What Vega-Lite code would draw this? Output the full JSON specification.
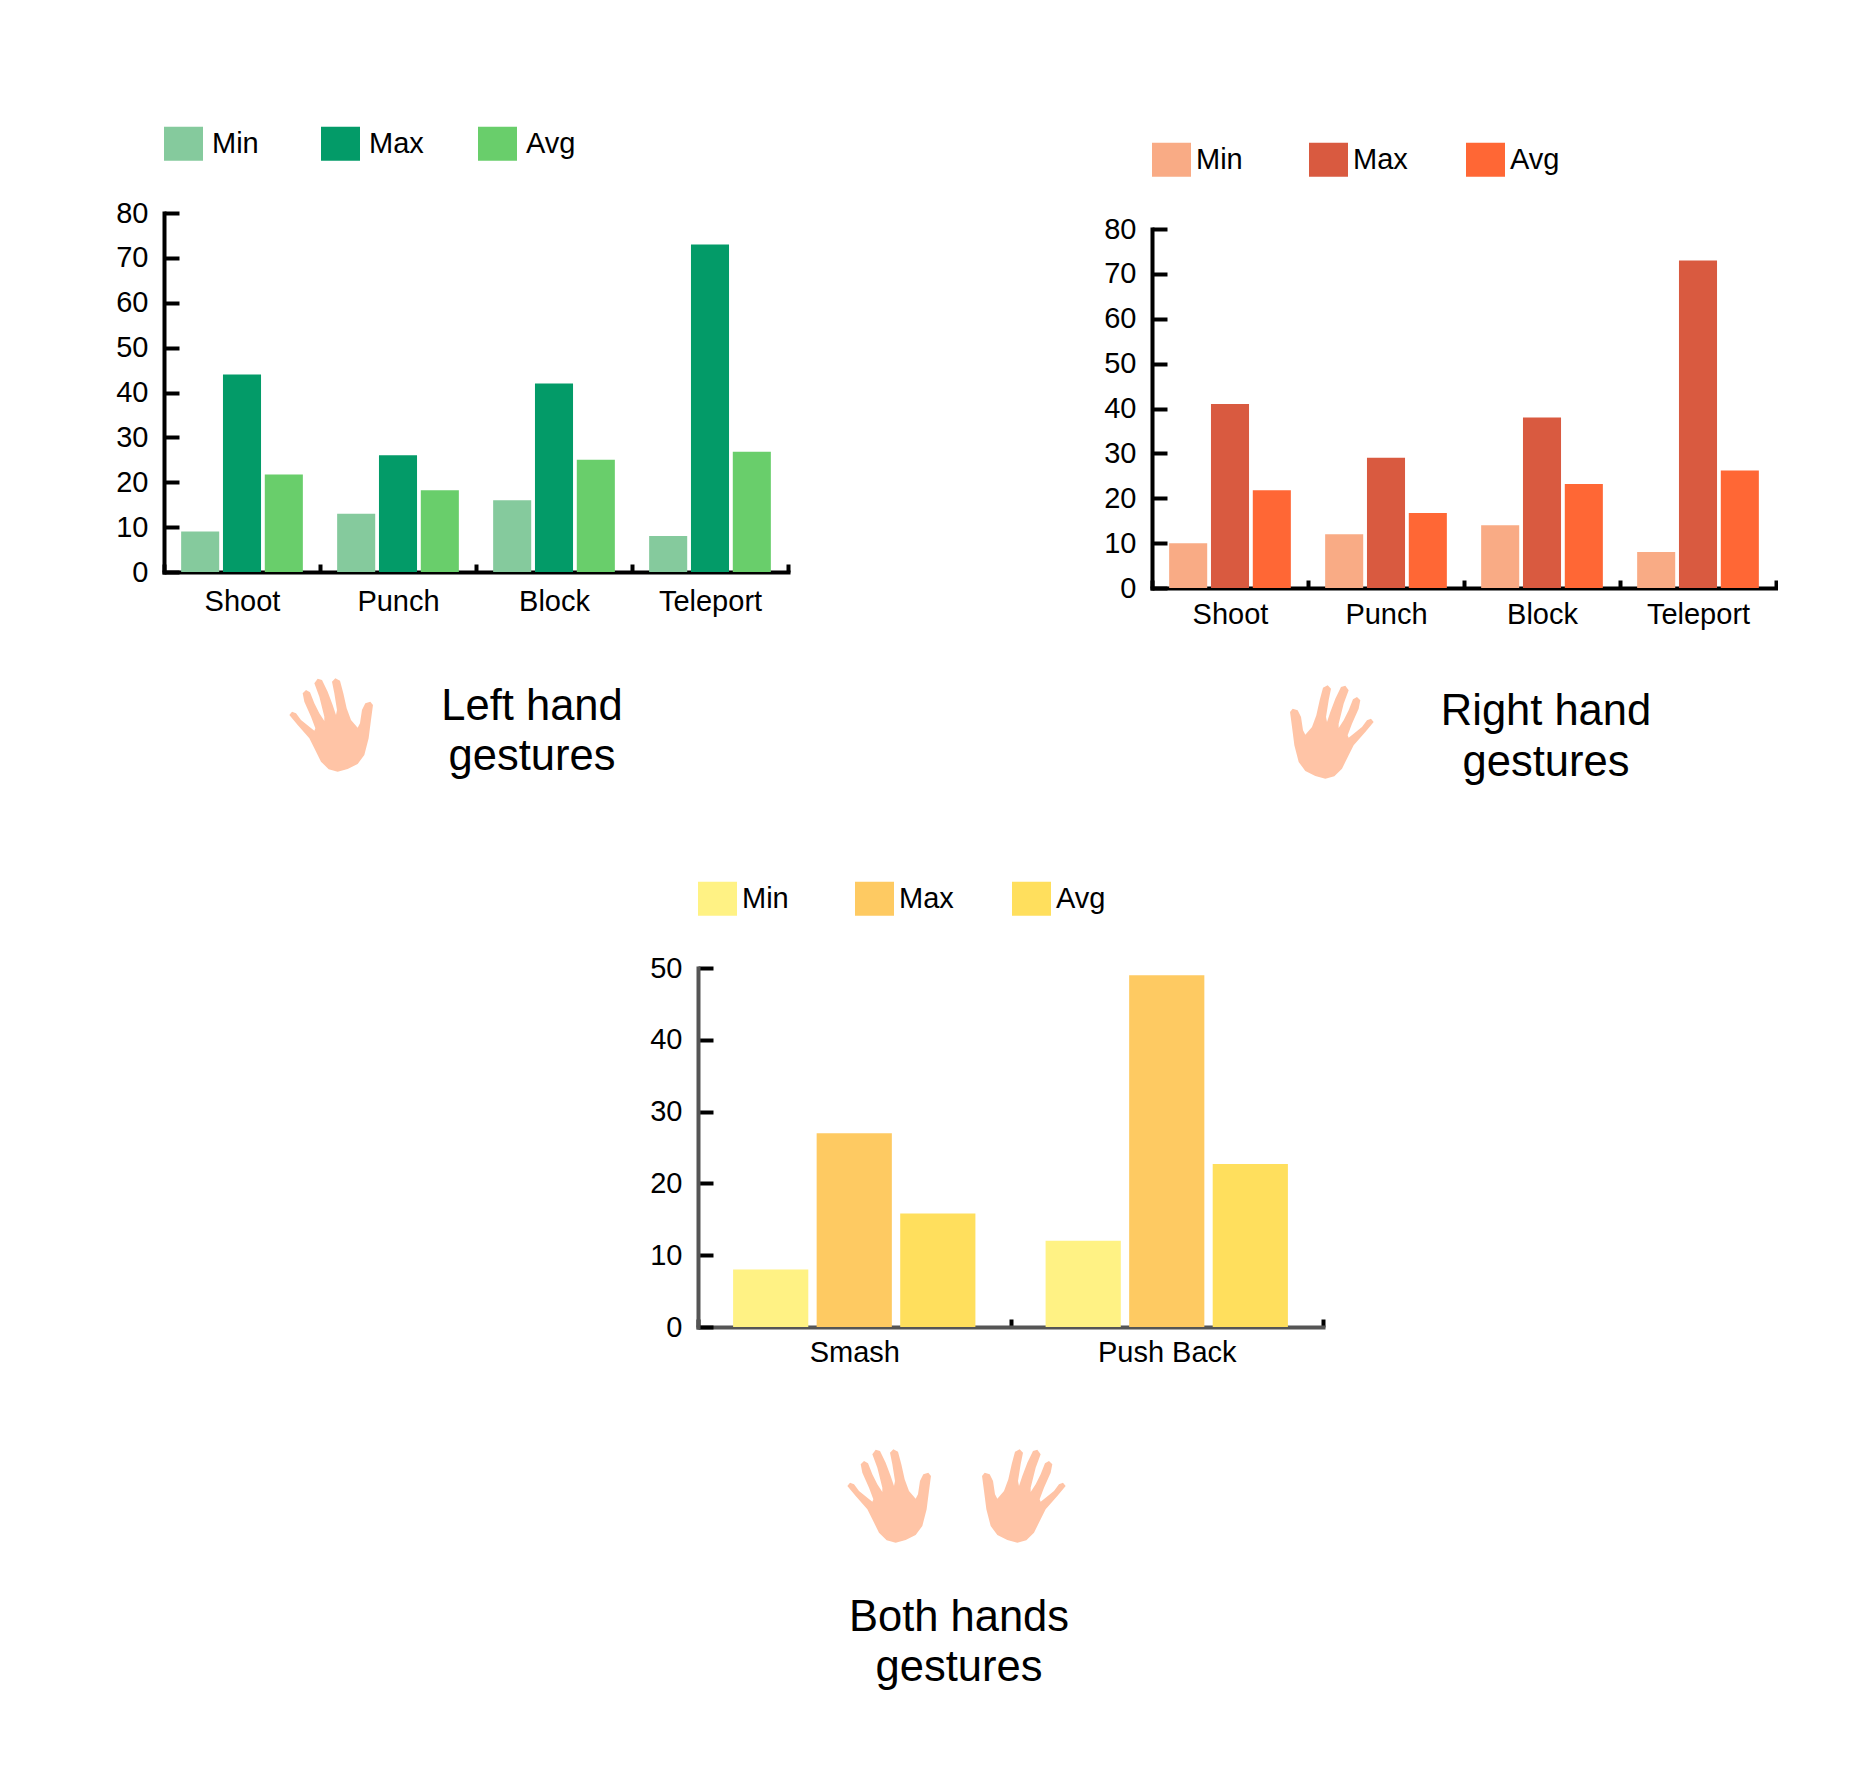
{
  "$schema": "https://vega.github.io/schema/vega-lite/v6.json",
  "background": "white",
  "padding": {"left": 115, "top": 24, "right": 0, "bottom": 0},
  "spacing": 42,
  "resolve": {"scale": {"color": "independent", "xOffset": "independent"}, "legend": {"color": "independent"}},
  "datasets": {
    "left": [
      {"gesture": "Shoot", "stat": "Min", "value": 9},
      {"gesture": "Shoot", "stat": "Max", "value": 44},
      {"gesture": "Shoot", "stat": "Avg", "value": 21.7},
      {"gesture": "Punch", "stat": "Min", "value": 13},
      {"gesture": "Punch", "stat": "Max", "value": 26},
      {"gesture": "Punch", "stat": "Avg", "value": 18.2},
      {"gesture": "Block", "stat": "Min", "value": 16},
      {"gesture": "Block", "stat": "Max", "value": 42},
      {"gesture": "Block", "stat": "Avg", "value": 25},
      {"gesture": "Teleport", "stat": "Min", "value": 8},
      {"gesture": "Teleport", "stat": "Max", "value": 73},
      {"gesture": "Teleport", "stat": "Avg", "value": 26.8}
    ],
    "right": [
      {"gesture": "Shoot", "stat": "Min", "value": 10},
      {"gesture": "Shoot", "stat": "Max", "value": 41},
      {"gesture": "Shoot", "stat": "Avg", "value": 21.8},
      {"gesture": "Punch", "stat": "Min", "value": 12},
      {"gesture": "Punch", "stat": "Max", "value": 29},
      {"gesture": "Punch", "stat": "Avg", "value": 16.7},
      {"gesture": "Block", "stat": "Min", "value": 14},
      {"gesture": "Block", "stat": "Max", "value": 38},
      {"gesture": "Block", "stat": "Avg", "value": 23.2},
      {"gesture": "Teleport", "stat": "Min", "value": 8},
      {"gesture": "Teleport", "stat": "Max", "value": 73},
      {"gesture": "Teleport", "stat": "Avg", "value": 26.2}
    ],
    "both": [
      {"gesture": "Smash", "stat": "Min", "value": 8},
      {"gesture": "Smash", "stat": "Max", "value": 27},
      {"gesture": "Smash", "stat": "Avg", "value": 15.8},
      {"gesture": "Push Back", "stat": "Min", "value": 12},
      {"gesture": "Push Back", "stat": "Max", "value": 49},
      {"gesture": "Push Back", "stat": "Avg", "value": 22.7}
    ]
  },
  "vconcat": [
    {
      "resolve": {"scale": {"color": "independent", "xOffset": "independent"}, "legend": {"color": "independent"}},
      "hconcat": [
        {
          "spacing": 0,
          "resolve": {"scale": {"color": "independent", "xOffset": "independent"}, "legend": {"color": "independent"}},
          "vconcat": [
            {"width": 1, "height": 100, "data": {"values": []}, "mark": "rect"},
            {
              "width": 624,
              "height": 359,
              "data": {"name": "left"},
              "mark": {"type": "bar", "clip": false},
              "encoding": {
                "x": {
                  "field": "gesture",
                  "type": "nominal",
                  "sort": ["Shoot", "Punch", "Block", "Teleport"],
                  "scale": {"paddingInner": 0, "paddingOuter": 0},
                  "axis": {"title": null, "labelAngle": 0, "tickBand": "extent", "tickSize": -8, "labelPadding": 23}
                },
                "xOffset": {
                  "field": "stat",
                  "type": "nominal",
                  "sort": ["Min", "Max", "Avg"],
                  "scale": {"paddingInner": 0.09, "paddingOuter": 0.41}
                },
                "y": {
                  "field": "value",
                  "type": "quantitative",
                  "scale": {"domain": [0, 80]},
                  "axis": {"title": null, "values": [0, 10, 20, 30, 40, 50, 60, 70, 80], "tickSize": -15, "labelPadding": 31, "grid": false}
                },
                "color": {
                  "field": "stat",
                  "type": "nominal",
                  "scale": {"domain": ["Min", "Max", "Avg"], "range": ["#85CA9D", "#039B68", "#69CE6B"]},
                  "legend": {
                    "title": null,
                    "orient": "none",
                    "legendX": 0,
                    "legendY": -89,
                    "direction": "horizontal",
                    "columns": 3,
                    "gridAlign": "all",
                    "columnPadding": 54,
                    "labelOffset": 9,
                    "symbolSize": 1521,
                    "symbolType": "M-1,-0.87H1V0.87H-1Z",
                    "symbolStrokeWidth": 0,
                    "labelFontSize": 29,
                    "labelFont": "Liberation Sans",
                    "labelColor": "black"
                  }
                }
              }
            },
            {
              "width": 624,
              "height": 220,
              "resolve": {"scale": {"x": "independent", "y": "independent"}},
              "layer": [
                {
                  "data": {"values": [{"part": "hand", "row": "hand"}]},
                  "mark": {
                    "type": "point",
                    "filled": true,
                    "opacity": 1,
                    "color": "#FFC4A6",
                    "size": 0.444,
                    "shape": "M-125,-30L-117,-40L-105,-35L-90,-15L-65,5L-50,17L-47,10L-60,-25L-80,-70L-85,-95L-75,-105L-63,-98L-50,-65L-35,-35L-20,-12L-20,-25L-35,-85L-50,-125L-40,-139L-27,-135L-10,-100L5,-60L15,-30L18,-45L10,-95L3,-130L13,-140L27,-133L37,-95L47,-50L60,-15L80,8L87,-5L93,-45L103,-65L118,-70L126,-60L120,-15L113,40L100,90L80,117L50,132L20,140L-7,133L-30,110L-50,70L-65,40L-100,0Z"
                  },
                  "encoding": {
                    "x": {"field": "part", "type": "nominal", "axis": null, "scale": {"type": "point", "padding": 0, "domain": ["hand"], "range": [167, 167]}},
                    "y": {"field": "row", "type": "nominal", "axis": null, "scale": {"type": "point", "padding": 0, "domain": ["hand"], "range": [109, 109]}}
                  }
                },
                {
                  "data": {"values": [
                    {"part": "caption", "row": "line1", "label": "Left hand"},
                    {"part": "caption", "row": "line2", "label": "gestures"}
                  ]},
                  "mark": {"type": "text", "fontSize": 43.5, "font": "Liberation Sans", "color": "black"},
                  "encoding": {
                    "x": {"field": "part", "type": "nominal", "axis": null, "scale": {"type": "point", "padding": 0, "domain": ["caption"], "range": [368, 368]}},
                    "y": {"field": "row", "type": "nominal", "axis": null, "scale": {"type": "point", "padding": 0, "domain": ["line1", "line2"], "range": [91, 141]}},
                    "text": {"field": "label"}
                  }
                }
              ]
            }
          ]
        },
        {
          "spacing": 0,
          "resolve": {"scale": {"color": "independent", "xOffset": "independent"}, "legend": {"color": "independent"}},
          "vconcat": [
            {"width": 1, "height": 116, "data": {"values": []}, "mark": "rect"},
            {
              "width": 624,
              "height": 359,
              "data": {"name": "right"},
              "mark": {"type": "bar", "clip": false},
              "encoding": {
                "x": {
                  "field": "gesture",
                  "type": "nominal",
                  "sort": ["Shoot", "Punch", "Block", "Teleport"],
                  "scale": {"paddingInner": 0, "paddingOuter": 0},
                  "axis": {"title": null, "labelAngle": 0, "tickBand": "extent", "tickSize": -8, "labelPadding": 20}
                },
                "xOffset": {
                  "field": "stat",
                  "type": "nominal",
                  "sort": ["Min", "Max", "Avg"],
                  "scale": {"paddingInner": 0.09, "paddingOuter": 0.41}
                },
                "y": {
                  "field": "value",
                  "type": "quantitative",
                  "scale": {"domain": [0, 80]},
                  "axis": {"title": null, "values": [0, 10, 20, 30, 40, 50, 60, 70, 80], "tickSize": -15, "labelPadding": 31, "grid": false}
                },
                "color": {
                  "field": "stat",
                  "type": "nominal",
                  "scale": {"domain": ["Min", "Max", "Avg"], "range": ["#F9AB85", "#D95A40", "#FF6735"]},
                  "legend": {
                    "title": null,
                    "orient": "none",
                    "legendX": 0,
                    "legendY": -89,
                    "direction": "horizontal",
                    "columns": 3,
                    "gridAlign": "all",
                    "columnPadding": 58,
                    "labelOffset": 5,
                    "symbolSize": 1521,
                    "symbolType": "M-1,-0.87H1V0.87H-1Z",
                    "symbolStrokeWidth": 0,
                    "labelFontSize": 29,
                    "labelFont": "Liberation Sans",
                    "labelColor": "black"
                  }
                }
              }
            },
            {
              "width": 624,
              "height": 204,
              "resolve": {"scale": {"x": "independent", "y": "independent"}},
              "layer": [
                {
                  "data": {"values": [{"part": "hand", "row": "hand"}]},
                  "mark": {
                    "type": "point",
                    "filled": true,
                    "opacity": 1,
                    "color": "#FFC4A6",
                    "size": 0.444,
                    "shape": "M125,-30L117,-40L105,-35L90,-15L65,5L50,17L47,10L60,-25L80,-70L85,-95L75,-105L63,-98L50,-65L35,-35L20,-12L20,-25L35,-85L50,-125L40,-139L27,-135L10,-100L-5,-60L-15,-30L-18,-45L-10,-95L-3,-130L-13,-140L-27,-133L-37,-95L-47,-50L-60,-15L-80,8L-87,-5L-93,-45L-103,-65L-118,-70L-126,-60L-120,-15L-113,40L-100,90L-80,117L-50,132L-20,140L7,133L30,110L50,70L65,40L100,0Z"
                  },
                  "encoding": {
                    "x": {"field": "part", "type": "nominal", "axis": null, "scale": {"type": "point", "padding": 0, "domain": ["hand"], "range": [180, 180]}},
                    "y": {"field": "row", "type": "nominal", "axis": null, "scale": {"type": "point", "padding": 0, "domain": ["hand"], "range": [103, 103]}}
                  }
                },
                {
                  "data": {"values": [
                    {"part": "caption", "row": "line1", "label": "Right hand"},
                    {"part": "caption", "row": "line2", "label": "gestures"}
                  ]},
                  "mark": {"type": "text", "fontSize": 43.5, "font": "Liberation Sans", "color": "black"},
                  "encoding": {
                    "x": {"field": "part", "type": "nominal", "axis": null, "scale": {"type": "point", "padding": 0, "domain": ["caption"], "range": [394, 394]}},
                    "y": {"field": "row", "type": "nominal", "axis": null, "scale": {"type": "point", "padding": 0, "domain": ["line1", "line2"], "range": [83, 133.5]}},
                    "text": {"field": "label"}
                  }
                }
              ]
            }
          ]
        }
      ],
      "spacing": 313
    },
    {
      "resolve": {"scale": {"color": "independent", "xOffset": "independent"}, "legend": {"color": "independent"}},
      "hconcat": [
        {"width": 485, "height": 1, "data": {"values": []}, "mark": "rect"},
        {
          "spacing": 0,
          "resolve": {"scale": {"color": "independent", "xOffset": "independent"}, "legend": {"color": "independent"}},
          "vconcat": [
            {"width": 1, "height": 1, "data": {"values": []}, "mark": "rect"},
            {
              "width": 625,
              "height": 359,
              "data": {"name": "both"},
              "mark": {"type": "bar", "clip": false},
              "encoding": {
                "x": {
                  "field": "gesture",
                  "type": "nominal",
                  "sort": ["Smash", "Push Back"],
                  "scale": {"paddingInner": 0, "paddingOuter": 0},
                  "axis": {"title": null, "labelAngle": 0, "tickBand": "extent", "tickSize": -8, "labelPadding": 19, "domainColor": "#555555"}
                },
                "xOffset": {
                  "field": "stat",
                  "type": "nominal",
                  "sort": ["Min", "Max", "Avg"],
                  "scale": {"paddingInner": 0.1, "paddingOuter": 0.42}
                },
                "y": {
                  "field": "value",
                  "type": "quantitative",
                  "scale": {"domain": [0, 50]},
                  "axis": {"title": null, "values": [0, 10, 20, 30, 40, 50], "tickSize": -15, "labelPadding": 31, "grid": false, "domainColor": "#555555"}
                },
                "color": {
                  "field": "stat",
                  "type": "nominal",
                  "scale": {"domain": ["Min", "Max", "Avg"], "range": ["#FFF284", "#FECA62", "#FFDF5D"]},
                  "legend": {
                    "title": null,
                    "orient": "none",
                    "legendX": 0,
                    "legendY": -89,
                    "direction": "horizontal",
                    "columns": 3,
                    "gridAlign": "all",
                    "columnPadding": 58,
                    "labelOffset": 5,
                    "symbolSize": 1521,
                    "symbolType": "M-1,-0.87H1V0.87H-1Z",
                    "symbolStrokeWidth": 0,
                    "labelFontSize": 29,
                    "labelFont": "Liberation Sans",
                    "labelColor": "black"
                  }
                }
              }
            },
            {
              "width": 625,
              "height": 360,
              "resolve": {"scale": {"x": "independent", "y": "independent"}},
              "layer": [
                {
                  "data": {"values": [{"part": "hand one", "row": "hand"}]},
                  "mark": {
                    "type": "point",
                    "filled": true,
                    "opacity": 1,
                    "color": "#FFC4A6",
                    "size": 0.444,
                    "shape": "M-125,-30L-117,-40L-105,-35L-90,-15L-65,5L-50,17L-47,10L-60,-25L-80,-70L-85,-95L-75,-105L-63,-98L-50,-65L-35,-35L-20,-12L-20,-25L-35,-85L-50,-125L-40,-139L-27,-135L-10,-100L5,-60L15,-30L18,-45L10,-95L3,-130L13,-140L27,-133L37,-95L47,-50L60,-15L80,8L87,-5L93,-45L103,-65L118,-70L126,-60L120,-15L113,40L100,90L80,117L50,132L20,140L-7,133L-30,110L-50,70L-65,40L-100,0Z"
                  },
                  "encoding": {
                    "x": {"field": "part", "type": "nominal", "axis": null, "scale": {"type": "point", "padding": 0, "domain": ["hand one"], "range": [191, 191]}},
                    "y": {"field": "row", "type": "nominal", "axis": null, "scale": {"type": "point", "padding": 0, "domain": ["hand"], "range": [129, 129]}}
                  }
                },
                {
                  "data": {"values": [{"part": "hand two", "row": "hand"}]},
                  "mark": {
                    "type": "point",
                    "filled": true,
                    "opacity": 1,
                    "color": "#FFC4A6",
                    "size": 0.444,
                    "shape": "M125,-30L117,-40L105,-35L90,-15L65,5L50,17L47,10L60,-25L80,-70L85,-95L75,-105L63,-98L50,-65L35,-35L20,-12L20,-25L35,-85L50,-125L40,-139L27,-135L10,-100L-5,-60L-15,-30L-18,-45L-10,-95L-3,-130L-13,-140L-27,-133L-37,-95L-47,-50L-60,-15L-80,8L-87,-5L-93,-45L-103,-65L-118,-70L-126,-60L-120,-15L-113,40L-100,90L-80,117L-50,132L-20,140L7,133L30,110L50,70L65,40L100,0Z"
                  },
                  "encoding": {
                    "x": {"field": "part", "type": "nominal", "axis": null, "scale": {"type": "point", "padding": 0, "domain": ["hand two"], "range": [326, 326]}},
                    "y": {"field": "row", "type": "nominal", "axis": null, "scale": {"type": "point", "padding": 0, "domain": ["hand"], "range": [129, 129]}}
                  }
                },
                {
                  "data": {"values": [
                    {"part": "caption", "row": "line1", "label": "Both hands"},
                    {"part": "caption", "row": "line2", "label": "gestures"}
                  ]},
                  "mark": {"type": "text", "fontSize": 43.5, "font": "Liberation Sans", "color": "black"},
                  "encoding": {
                    "x": {"field": "part", "type": "nominal", "axis": null, "scale": {"type": "point", "padding": 0, "domain": ["caption"], "range": [261, 261]}},
                    "y": {"field": "row", "type": "nominal", "axis": null, "scale": {"type": "point", "padding": 0, "domain": ["line1", "line2"], "range": [251, 301]}},
                    "text": {"field": "label"}
                  }
                }
              ]
            }
          ]
        }
      ],
      "spacing": 0
    }
  ],
  "config": {
    "view": {"stroke": null},
    "axis": {
      "domainColor": "black",
      "domainWidth": 4,
      "domainCap": "square",
      "tickColor": "black",
      "tickWidth": 4,
      "labelColor": "black",
      "labelFont": "Liberation Sans",
      "labelFontSize": 29
    }
  }
}
